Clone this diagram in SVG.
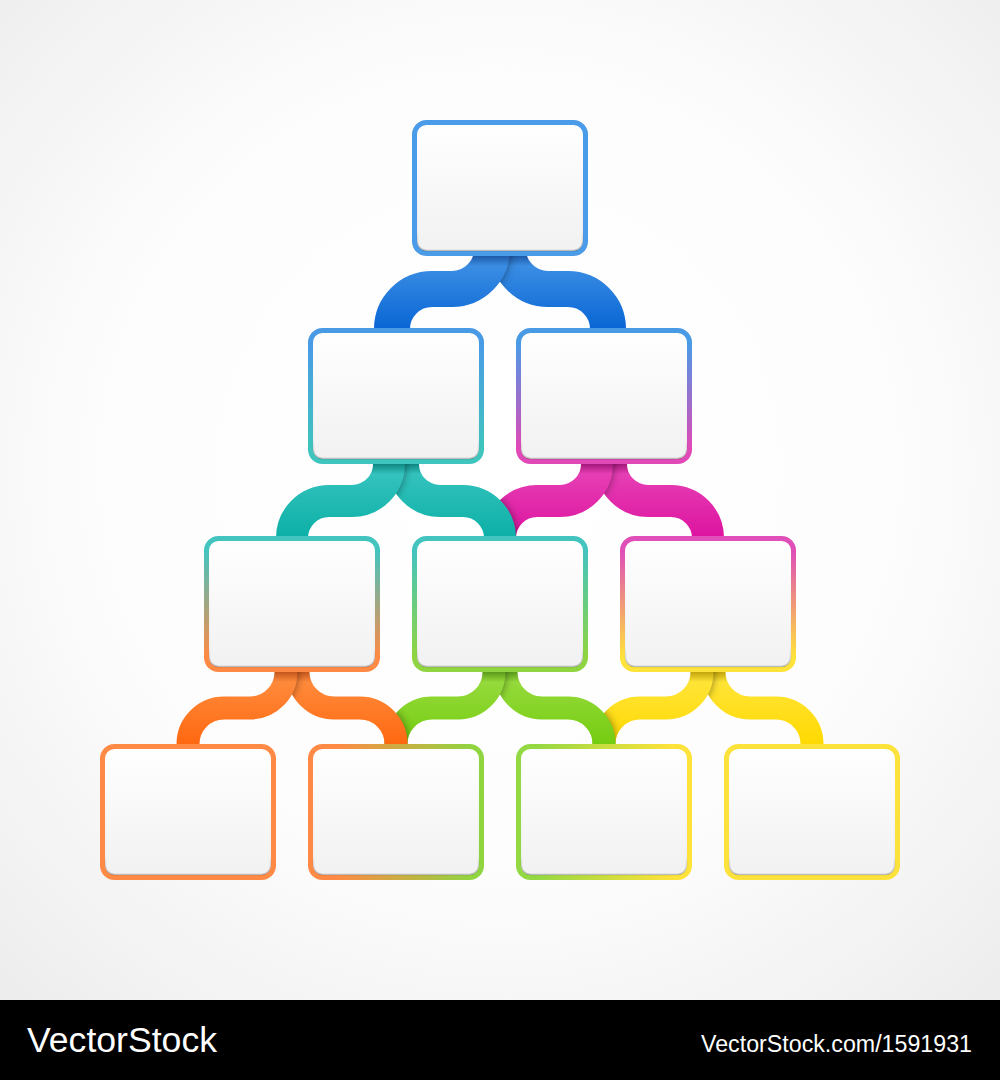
<svg xmlns="http://www.w3.org/2000/svg" xmlns:xlink="http://www.w3.org/1999/xlink" width="1000" height="1080" viewBox="0 0 1000 1080">
<style>
.box{stroke-width:5}
.fillbox{fill:url(#boxFill)}
.inner{fill:none;stroke:url(#innerShade);stroke-width:1.5}
.rib{fill:none;stroke-linecap:butt}
.sh{fill:none;stroke:#000;stroke-opacity:0.45;filter:url(#blur)}
.wm{fill:#fff;font-family:"Liberation Sans","DejaVu Sans",sans-serif}
</style>
<defs>
<radialGradient id="bg" cx="500" cy="470" r="720" gradientUnits="userSpaceOnUse">
<stop offset="0" stop-color="#ffffff"/><stop offset="0.55" stop-color="#fdfdfd"/><stop offset="1" stop-color="#ededed"/>
</radialGradient>
<linearGradient id="boxFill" x1="0" y1="0" x2="0" y2="1">
<stop offset="0" stop-color="#ffffff"/><stop offset="1" stop-color="#f1f1f1"/>
</linearGradient>
<linearGradient id="innerShade" x1="0" y1="0" x2="0" y2="1">
<stop offset="0" stop-color="#000" stop-opacity="0"/><stop offset="0.85" stop-color="#000" stop-opacity="0.02"/><stop offset="1" stop-color="#000" stop-opacity="0.22"/>
</linearGradient>
<linearGradient id="s2L" x1="0" y1="0" x2="0" y2="1"><stop offset="0.1" stop-color="#4a9be6"/><stop offset="0.9" stop-color="#3fc4be"/></linearGradient>
<linearGradient id="s2R" x1="0" y1="0" x2="0" y2="1"><stop offset="0.1" stop-color="#4a9be6"/><stop offset="0.9" stop-color="#e049b6"/></linearGradient>
<linearGradient id="s3L" x1="0" y1="0" x2="0" y2="1"><stop offset="0.1" stop-color="#44c4bf"/><stop offset="0.9" stop-color="#ff8a45"/></linearGradient>
<linearGradient id="s3M" x1="0" y1="0" x2="0" y2="1"><stop offset="0.1" stop-color="#44c4bf"/><stop offset="0.9" stop-color="#90d540"/></linearGradient>
<linearGradient id="s3R" x1="0" y1="0" x2="0" y2="1"><stop offset="0.1" stop-color="#e04fb8"/><stop offset="0.9" stop-color="#ffe23a"/></linearGradient>
<linearGradient id="s4B" x1="0" y1="0" x2="1" y2="0"><stop offset="0.15" stop-color="#ff8a45"/><stop offset="0.95" stop-color="#90d540"/></linearGradient>
<linearGradient id="s4C" x1="0" y1="0" x2="1" y2="0"><stop offset="0.1" stop-color="#94d844"/><stop offset="0.9" stop-color="#ffe23a"/></linearGradient>
<linearGradient id="rBlue" gradientUnits="userSpaceOnUse" x1="0" y1="256" x2="0" y2="328"><stop offset="0" stop-color="#1f5aa8"/><stop offset="0.14" stop-color="#3a8de3"/><stop offset="1" stop-color="#0a66d5"/></linearGradient>
<linearGradient id="rTeal" gradientUnits="userSpaceOnUse" x1="0" y1="464" x2="0" y2="536"><stop offset="0" stop-color="#0f8782"/><stop offset="0.14" stop-color="#34c2bd"/><stop offset="1" stop-color="#0cb0a7"/></linearGradient>
<linearGradient id="rMag" gradientUnits="userSpaceOnUse" x1="0" y1="464" x2="0" y2="536"><stop offset="0" stop-color="#a3187a"/><stop offset="0.14" stop-color="#e63eb4"/><stop offset="1" stop-color="#dd14a0"/></linearGradient>
<linearGradient id="rOrg" gradientUnits="userSpaceOnUse" x1="0" y1="672" x2="0" y2="744"><stop offset="0" stop-color="#c2561c"/><stop offset="0.14" stop-color="#ff8a3b"/><stop offset="1" stop-color="#ff6810"/></linearGradient>
<linearGradient id="rGrn" gradientUnits="userSpaceOnUse" x1="0" y1="672" x2="0" y2="744"><stop offset="0" stop-color="#5b9a1c"/><stop offset="0.14" stop-color="#95da3b"/><stop offset="1" stop-color="#74cc10"/></linearGradient>
<linearGradient id="rYel" gradientUnits="userSpaceOnUse" x1="0" y1="672" x2="0" y2="744"><stop offset="0" stop-color="#c2a40c"/><stop offset="0.14" stop-color="#ffe436"/><stop offset="1" stop-color="#ffd900"/></linearGradient>
<filter id="blur" filterUnits="userSpaceOnUse" x="0" y="0" width="1000" height="1000"><feGaussianBlur stdDeviation="4"/></filter>
<path id="pBlueL" d="M 492 240 L 492 249 A 40 40 0 0 1 452 289 L 432 289 A 40 40 0 0 0 392 329 L 392 340"/>
<path id="pBlueR" d="M 508 240 L 508 249 A 40 40 0 0 0 548 289 L 568 289 A 40 40 0 0 1 608 329 L 608 340"/>
<path id="pTealL" d="M 389 452 L 389 464 A 37 37 0 0 1 352 501 L 329 501 A 37 37 0 0 0 292 538 L 292 548"/>
<path id="pTealR" d="M 403 452 L 403 464 A 37 37 0 0 0 440 501 L 463 501 A 37 37 0 0 1 500 538 L 500 548"/>
<path id="pMagL" d="M 597 452 L 597 464 A 37 37 0 0 1 560 501 L 537 501 A 37 37 0 0 0 500 538 L 500 548"/>
<path id="pMagR" d="M 611 452 L 611 464 A 37 37 0 0 0 648 501 L 671 501 A 37 37 0 0 1 708 538 L 708 548"/>
<path id="pOrgL" d="M 286 660 L 286 672 A 36 36 0 0 1 250 708 L 224 708 A 36 36 0 0 0 188 744 L 188 756"/>
<path id="pOrgR" d="M 298 660 L 298 672 A 36 36 0 0 0 334 708 L 360 708 A 36 36 0 0 1 396 744 L 396 756"/>
<path id="pGrnL" d="M 494 660 L 494 672 A 36 36 0 0 1 458 708 L 432 708 A 36 36 0 0 0 396 744 L 396 756"/>
<path id="pGrnR" d="M 506 660 L 506 672 A 36 36 0 0 0 542 708 L 568 708 A 36 36 0 0 1 604 744 L 604 756"/>
<path id="pYelL" d="M 702 660 L 702 672 A 36 36 0 0 1 666 708 L 640 708 A 36 36 0 0 0 604 744 L 604 756"/>
<path id="pYelR" d="M 714 660 L 714 672 A 36 36 0 0 0 750 708 L 776 708 A 36 36 0 0 1 812 744 L 812 756"/>
<mask id="mBlueR" maskUnits="userSpaceOnUse" x="0" y="0" width="1000" height="1000"><use xlink:href="#pBlueR" fill="none" stroke="#fff" stroke-width="36"/></mask>
<mask id="mTealR" maskUnits="userSpaceOnUse" x="0" y="0" width="1000" height="1000"><use xlink:href="#pTealR" fill="none" stroke="#fff" stroke-width="32"/></mask>
<mask id="mMagL" maskUnits="userSpaceOnUse" x="0" y="0" width="1000" height="1000"><use xlink:href="#pMagL" fill="none" stroke="#fff" stroke-width="32"/></mask>
<mask id="mMagR" maskUnits="userSpaceOnUse" x="0" y="0" width="1000" height="1000"><use xlink:href="#pMagR" fill="none" stroke="#fff" stroke-width="32"/></mask>
<mask id="mOrgR" maskUnits="userSpaceOnUse" x="0" y="0" width="1000" height="1000"><use xlink:href="#pOrgR" fill="none" stroke="#fff" stroke-width="23"/></mask>
<mask id="mGrnL" maskUnits="userSpaceOnUse" x="0" y="0" width="1000" height="1000"><use xlink:href="#pGrnL" fill="none" stroke="#fff" stroke-width="23"/></mask>
<mask id="mGrnR" maskUnits="userSpaceOnUse" x="0" y="0" width="1000" height="1000"><use xlink:href="#pGrnR" fill="none" stroke="#fff" stroke-width="23"/></mask>
<mask id="mYelL" maskUnits="userSpaceOnUse" x="0" y="0" width="1000" height="1000"><use xlink:href="#pYelL" fill="none" stroke="#fff" stroke-width="23"/></mask>
<mask id="mYelR" maskUnits="userSpaceOnUse" x="0" y="0" width="1000" height="1000"><use xlink:href="#pYelR" fill="none" stroke="#fff" stroke-width="23"/></mask>
</defs>

<rect x="0" y="0" width="1000" height="1000" fill="url(#bg)"/>

<g id="connectors">
  <use xlink:href="#pBlueR" class="rib" stroke="url(#rBlue)" stroke-width="36"/>
  <use xlink:href="#pBlueL" class="sh" stroke-width="36" mask="url(#mBlueR)"/>
  <use xlink:href="#pBlueL" class="rib" stroke="url(#rBlue)" stroke-width="36"/>
  <use xlink:href="#pMagR" class="rib" stroke="url(#rMag)" stroke-width="32"/>
  <use xlink:href="#pMagL" class="sh" stroke-width="32" mask="url(#mMagR)"/>
  <use xlink:href="#pMagL" class="rib" stroke="url(#rMag)" stroke-width="32"/>
  <use xlink:href="#pTealR" class="sh" stroke-width="32" mask="url(#mMagL)"/>
  <use xlink:href="#pTealR" class="rib" stroke="url(#rTeal)" stroke-width="32"/>
  <use xlink:href="#pTealL" class="sh" stroke-width="32" mask="url(#mTealR)"/>
  <use xlink:href="#pTealL" class="rib" stroke="url(#rTeal)" stroke-width="32"/>
  <use xlink:href="#pYelR" class="rib" stroke="url(#rYel)" stroke-width="23"/>
  <use xlink:href="#pYelL" class="sh" stroke-width="23" mask="url(#mYelR)"/>
  <use xlink:href="#pYelL" class="rib" stroke="url(#rYel)" stroke-width="23"/>
  <use xlink:href="#pGrnR" class="sh" stroke-width="23" mask="url(#mYelL)"/>
  <use xlink:href="#pGrnR" class="rib" stroke="url(#rGrn)" stroke-width="23"/>
  <use xlink:href="#pGrnL" class="sh" stroke-width="23" mask="url(#mGrnR)"/>
  <use xlink:href="#pGrnL" class="rib" stroke="url(#rGrn)" stroke-width="23"/>
  <use xlink:href="#pOrgR" class="sh" stroke-width="23" mask="url(#mGrnL)"/>
  <use xlink:href="#pOrgR" class="rib" stroke="url(#rOrg)" stroke-width="23"/>
  <use xlink:href="#pOrgL" class="sh" stroke-width="23" mask="url(#mOrgR)"/>
  <use xlink:href="#pOrgL" class="rib" stroke="url(#rOrg)" stroke-width="23"/>
</g>

<g id="node-1-1"><rect class="box fillbox" x="414.5" y="122.5" width="171" height="131" rx="12" stroke="#4a9be8"/><rect class="inner" x="417.5" y="125.5" width="165" height="125" rx="9"/></g>

<g id="node-2-1"><rect class="box fillbox" x="310.5" y="330.5" width="171" height="131" rx="12" stroke="url(#s2L)"/><rect class="inner" x="313.5" y="333.5" width="165" height="125" rx="9"/></g>
<g id="node-2-2"><rect class="box fillbox" x="518.5" y="330.5" width="171" height="131" rx="12" stroke="url(#s2R)"/><rect class="inner" x="521.5" y="333.5" width="165" height="125" rx="9"/></g>

<g id="node-3-1"><rect class="box fillbox" x="206.5" y="538.5" width="171" height="131" rx="12" stroke="url(#s3L)"/><rect class="inner" x="209.5" y="541.5" width="165" height="125" rx="9"/></g>
<g id="node-3-2"><rect class="box fillbox" x="414.5" y="538.5" width="171" height="131" rx="12" stroke="url(#s3M)"/><rect class="inner" x="417.5" y="541.5" width="165" height="125" rx="9"/></g>
<g id="node-3-3"><rect class="box fillbox" x="622.5" y="538.5" width="171" height="131" rx="12" stroke="url(#s3R)"/><rect class="inner" x="625.5" y="541.5" width="165" height="125" rx="9"/></g>

<g id="node-4-1"><rect class="box fillbox" x="102.5" y="746.5" width="171" height="131" rx="12" stroke="#ff8a45"/><rect class="inner" x="105.5" y="749.5" width="165" height="125" rx="9"/></g>
<g id="node-4-2"><rect class="box fillbox" x="310.5" y="746.5" width="171" height="131" rx="12" stroke="url(#s4B)"/><rect class="inner" x="313.5" y="749.5" width="165" height="125" rx="9"/></g>
<g id="node-4-3"><rect class="box fillbox" x="518.5" y="746.5" width="171" height="131" rx="12" stroke="url(#s4C)"/><rect class="inner" x="521.5" y="749.5" width="165" height="125" rx="9"/></g>
<g id="node-4-4"><rect class="box fillbox" x="726.5" y="746.5" width="171" height="131" rx="12" stroke="#fde23c"/><rect class="inner" x="729.5" y="749.5" width="165" height="125" rx="9"/></g>

<g id="watermark">
<rect x="0" y="1000" width="1000" height="80" fill="#000"/>
<text class="wm" x="27" y="1052" font-size="35" textLength="190" lengthAdjust="spacingAndGlyphs">VectorStock</text>
<text class="wm" x="701" y="1052" font-size="23" textLength="271" lengthAdjust="spacingAndGlyphs">VectorStock.com/1591931</text>
</g>
</svg>
